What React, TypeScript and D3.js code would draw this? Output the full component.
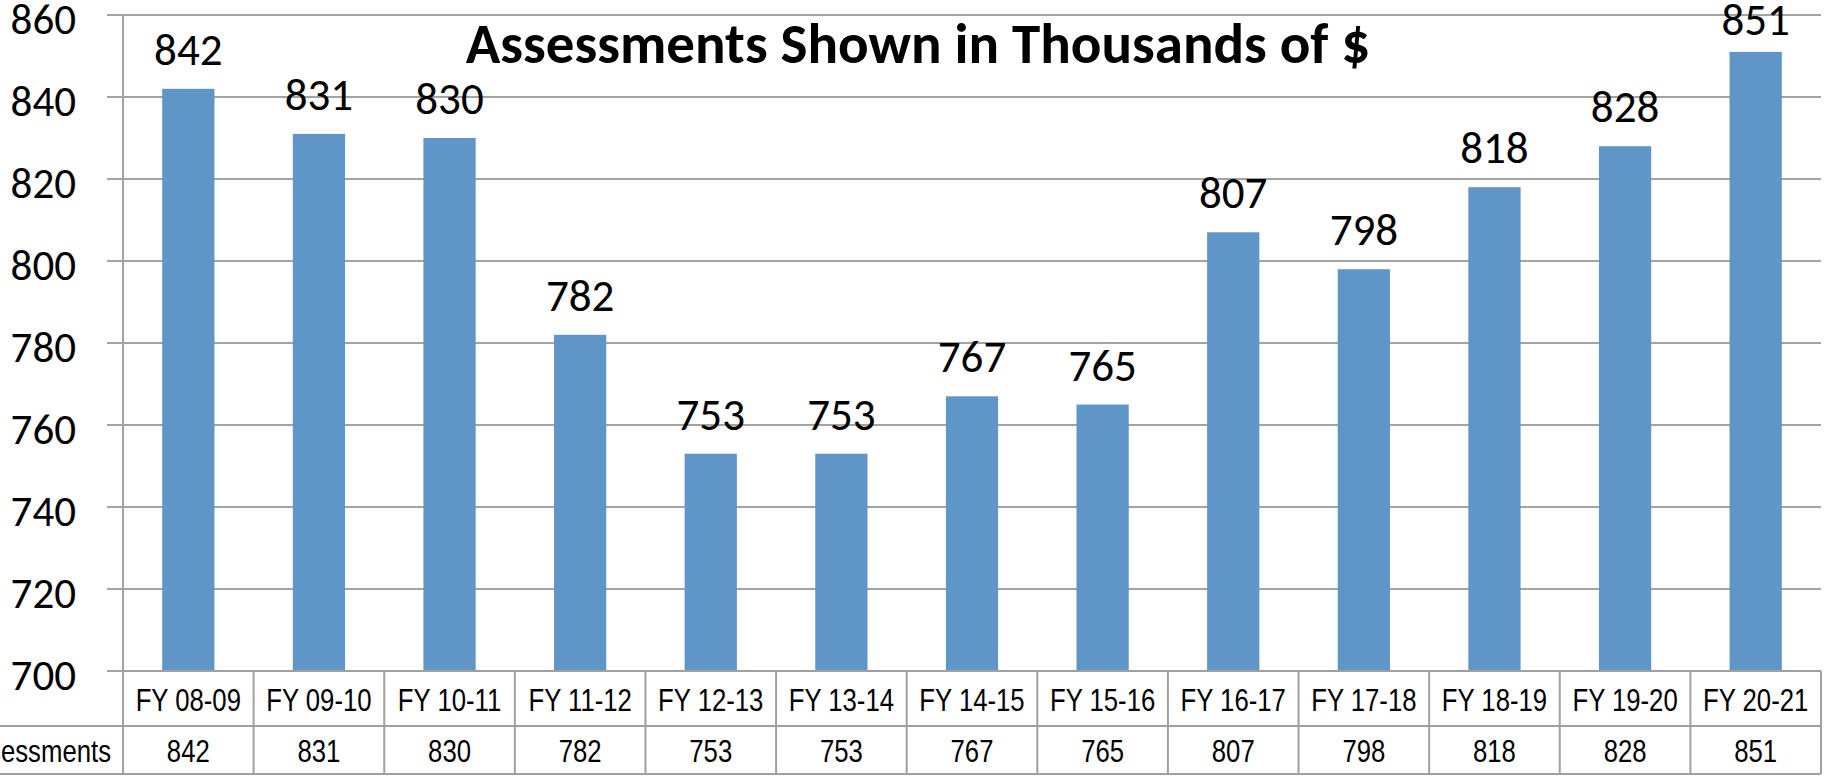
import React from 'react';
import * as d3 from 'd3';

const categories = ['FY 08-09', 'FY 09-10', 'FY 10-11', 'FY 11-12', 'FY 12-13', 'FY 13-14', 'FY 14-15', 'FY 15-16', 'FY 16-17', 'FY 17-18', 'FY 18-19', 'FY 19-20', 'FY 20-21'];
const values = [842, 831, 830, 782, 753, 753, 767, 765, 807, 798, 818, 828, 851];
const yTicks = [700, 720, 740, 760, 780, 800, 820, 840, 860];
const title = 'Assessments Shown in Thousands of $';
const seriesName = 'Assessments';

const W = 1825;
const H = 778;
const left = 123;
const right = 1821;
const top = 15;
const bottom = 671;
const row1 = 726;
const row2 = 774;
const grid = '#a3a3a3';
const tableLine = '#a0a0a0';
const barColor = '#6095c8';
const calibri = 'Calibri, Carlito, Lato, sans-serif';
const narrow = '"Liberation Sans", Arial, sans-serif';
const squeeze = 0.83;

function NarrowText({ x, y, anchor, children }: { x: number; y: number; anchor: string; children: React.ReactNode }) {
  return (
    <text transform={`translate(${x},${y}) scale(${squeeze},1)`} x={0} y={0} textAnchor={anchor} fontFamily={narrow} fontSize={31} fill="#000">
      {children}
    </text>
  );
}

export default function App() {
  const x = d3.scaleBand<string>().domain(categories).range([left, right]).paddingInner(0.6).paddingOuter(0.3);
  const step = x.step();
  const y = d3.scaleLinear().domain([700, 860]).range([bottom, top]);
  const colStart = (i: number) => left + i * step;

  return (
    <div style={{ position: 'absolute', left: 0, top: 0 }}>
      <svg width={W} height={H} style={{ display: 'block', background: '#fff' }}>
        {yTicks.map((t) => (
          <g key={t}>
            <line x1={107} x2={right} y1={y(t)} y2={y(t)} stroke={grid} strokeWidth={2} />
            <text x={76} y={y(t) + 19} textAnchor="end" fontFamily={calibri} fontSize={43} fill="#000">{t}</text>
          </g>
        ))}
        <line x1={left} x2={left} y1={top} y2={row2} stroke={grid} strokeWidth={2} />
        {values.map((v, i) => {
          const c = categories[i];
          const bx = x(c) as number;
          const cx = bx + x.bandwidth() / 2;
          return (
            <g key={c}>
              <rect x={bx} y={y(v)} width={x.bandwidth()} height={bottom - y(v)} fill={barColor} />
              <text x={cx} y={Math.max(y(v) - 24, top + 20)} textAnchor="middle" fontFamily={calibri} fontSize={45} fill="#000">{v}</text>
            </g>
          );
        })}
        <text x={918} y={63} textAnchor="middle" fontFamily={calibri} fontWeight={700} fontSize={57} fill="#000">{title}</text>
        {/* data table */}
        <line x1={left} x2={right} y1={bottom} y2={bottom} stroke={tableLine} strokeWidth={2} />
        <line x1={0} x2={right} y1={row1} y2={row1} stroke={tableLine} strokeWidth={2} />
        <line x1={0} x2={right} y1={row2} y2={row2} stroke={tableLine} strokeWidth={2} />
        {categories.map((c, i) => (
          <line key={'v' + c} x1={colStart(i + 1)} x2={colStart(i + 1)} y1={bottom} y2={row2} stroke={tableLine} strokeWidth={2} />
        ))}
        {categories.map((c, i) => {
          const cx = colStart(i) + step / 2;
          return (
            <g key={'t' + c}>
              <NarrowText x={cx} y={711} anchor="middle">{c}</NarrowText>
              <NarrowText x={cx} y={762} anchor="middle">{values[i]}</NarrowText>
            </g>
          );
        })}
        <NarrowText x={111} y={762} anchor="end">{seriesName}</NarrowText>
      </svg>
    </div>
  );
}
